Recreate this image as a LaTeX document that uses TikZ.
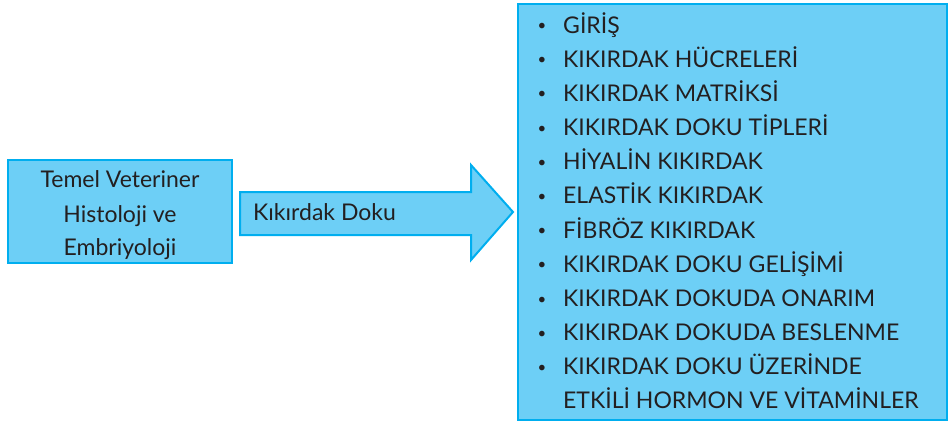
\documentclass[tikz,border=0pt]{standalone}
\usepackage{fontspec}
\setmainfont{Lato}
\definecolor{boxfill}{HTML}{6DCFF6}
\definecolor{boxline}{HTML}{00AEEF}
\definecolor{ink}{HTML}{231F20}
\begin{document}
\begin{tikzpicture}[x=1pt,y=-1pt,
  panel/.style={draw=boxline,fill=boxfill,line width=2pt},
  txt/.style={text=ink,font=\fontsize{23}{26}\selectfont,inner sep=0pt},
  bul/.style={text=ink,font=\fontsize{15}{18}\selectfont,inner sep=0pt}]
\useasboundingbox (0,0) rectangle (951,421);
% left box
\draw[panel] (8,160) rectangle (232,263);
\node[txt,anchor=base] (t1) at (120,187) {Temel Veteriner};
\node[txt,anchor=base] (t2) at (120,222) {Histoloji ve};
\node[txt,anchor=base] (t3) at (120,255) {Embriyoloji};
% arrow
\draw[panel,line join=miter] (240,192) -- (471,192) -- (471,165) -- (513,212) -- (471,260) -- (471,235) -- (240,235) -- cycle;
\node[txt,anchor=base west] (arr) at (253,220) {Kıkırdak Doku};
% right box
\draw[panel] (518,4) rectangle (947,420);
\foreach \i/\t in {0/GİRİŞ,1/KIKIRDAK HÜCRELERİ,2/KIKIRDAK MATRİKSİ,3/KIKIRDAK DOKU TİPLERİ,4/HİYALİN KIKIRDAK,5/ELASTİK KIKIRDAK,6/FİBRÖZ KIKIRDAK,7/KIKIRDAK DOKU GELİŞİMİ,8/KIKIRDAK DOKUDA ONARIM,9/KIKIRDAK DOKUDA BESLENME,10/KIKIRDAK DOKU ÜZERİNDE}{
  \node[txt,anchor=base west] (it\i) at (563,33+34.18*\i) {\t};
  \node[bul,anchor=center] (b\i) at (542,27+34.18*\i) {•};
}
\node[txt,anchor=base west] (it11) at (563,33+34.18*11) {ETKİLİ HORMON VE VİTAMİNLER};
\end{tikzpicture}
\end{document}
